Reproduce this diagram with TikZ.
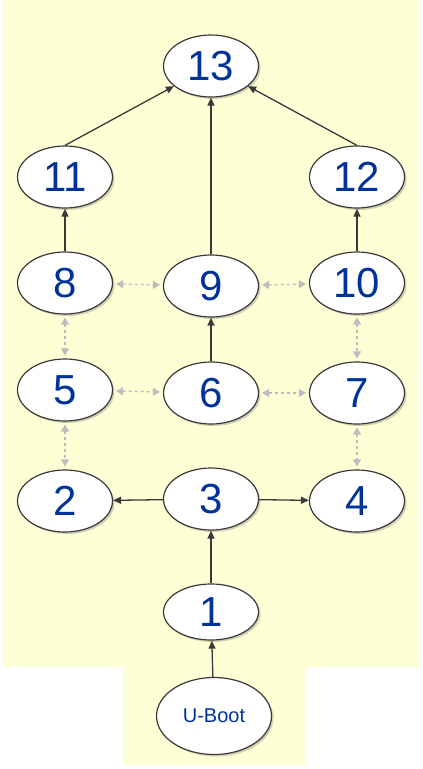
\documentclass[tikz,border=0pt]{standalone}
\usepackage{fontspec}
\setmainfont{Liberation Sans}
\usetikzlibrary{arrows.meta,shapes.geometric,shadows}
\definecolor{bgYellow}{HTML}{FFFFD6}
\definecolor{numBlue}{HTML}{003399}
\definecolor{linkGray}{HTML}{BDBDBD}
\definecolor{edgeDark}{HTML}{3A3A3A}

\tikzset{
  stage/.style={ellipse, draw=edgeDark, line width=1.2pt, fill=white,
    minimum width=95pt, minimum height=62pt, inner sep=0pt, text=numBlue,
    font=\fontsize{42}{42}\selectfont,
    drop shadow={shadow xshift=2pt, shadow yshift=-2pt, opacity=0.3, fill=black!60}},
  flow/.style={edgeDark, line width=1.3pt, -{Triangle[length=8pt,width=7pt]}},
  peer/.style={linkGray, line width=1.3pt, dash pattern=on 3pt off 3pt,
    shorten <=3pt, shorten >=3pt,
    {Triangle[length=7pt,width=8pt]}-{Triangle[length=7pt,width=8pt]}}
}

\begin{document}
\begin{tikzpicture}[x=1pt,y=-1pt]
  \useasboundingbox (0,0) rectangle (423,769);
  \fill[bgYellow] (3,0) -- (419,0) -- (419,667) -- (306,667) -- (306,765)
    -- (123,765) -- (123,667) -- (3,667) -- cycle;

  % boot stages
  \node[stage] (n13) at (211,66) {13};
  \node[stage] (n11) at (65,177) {11};
  \node[stage] (n12) at (357,177) {12};
  \node[stage] (n8) at (65,283) {8};
  \node[stage] (n9) at (211,286) {9};
  \node[stage] (n10) at (357,283) {10};
  \node[stage] (n5) at (65,390) {5};
  \node[stage] (n6) at (211,393) {6};
  \node[stage] (n7) at (357,393) {7};
  \node[stage] (n2) at (65,501) {2};
  \node[stage] (n3) at (211,499) {3};
  \node[stage] (n4) at (357,501) {4};
  \node[stage, minimum height=56pt] (n1) at (211,612) {1};
  \node[stage, minimum width=115pt, minimum height=77pt,
    font=\fontsize{20}{20}\selectfont] (boot) at (214,716) {U-Boot};

  % solid flow
  \draw[flow] (boot) -- (n1);
  \draw[flow] (n1) -- (n3);
  \draw[flow] (n3) -- (n2);
  \draw[flow] (n3) -- (n4);
  \draw[flow] (n6) -- (n9);
  \draw[flow] (n8) -- (n11);
  \draw[flow] (n10) -- (n12);
  \draw[flow] (n11.north) -- (n13);
  \draw[flow] (n9) -- (n13);
  \draw[flow] (n12.north) -- (n13);

  % dashed peers
  \foreach \a/\b in {n8/n9, n9/n10, n5/n6, n6/n7, n8/n5, n5/n2, n10/n7, n7/n4}
    \draw[peer] (\a) -- (\b);
\end{tikzpicture}
\end{document}
